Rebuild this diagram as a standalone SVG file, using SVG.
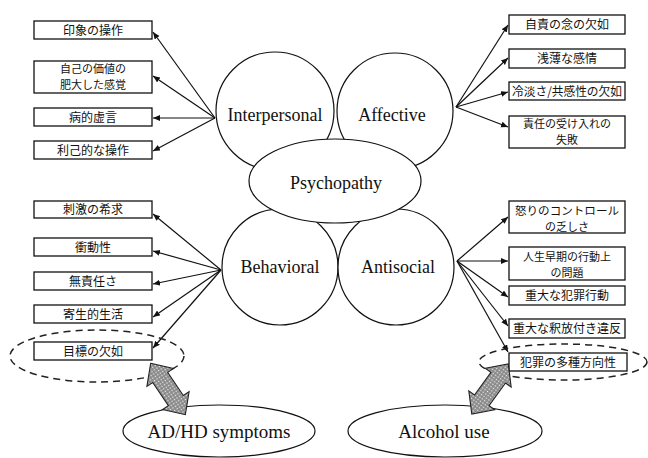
<svg xmlns="http://www.w3.org/2000/svg" width="648" height="458" viewBox="0 0 648 458">
<defs>
<style>
.box{fill:#fff;stroke:#111;stroke-width:1.3}
.jp{font-family:"Noto Sans CJK JP","Noto Sans CJK SC",sans-serif;font-size:12px;fill:#111;text-anchor:middle}
.two{font-size:11px}
.en{font-family:"Liberation Serif","Times New Roman",serif;font-size:18px;fill:#111;text-anchor:middle}
.big{font-size:19px}
.node{fill:#fff;stroke:#111;stroke-width:1.2}
.conn{stroke:#111;stroke-width:1.2;fill:none;marker-end:url(#ah)}
.dash{fill:none;stroke:#222;stroke-width:1.5;stroke-dasharray:7 5}
.dbl{fill:url(#stip);stroke:#222;stroke-width:1.1}
</style>
<marker id="ah" markerWidth="8" markerHeight="8" refX="7" refY="3" orient="auto" markerUnits="userSpaceOnUse">
<path d="M0,0 L7,3 L0,6 z" fill="#111"/>
</marker>
<pattern id="stip" width="3" height="3" patternUnits="userSpaceOnUse">
<rect width="3" height="3" fill="#9a9a9a"/>
<rect x="0" y="0" width="1" height="1" fill="#eee"/>
<rect x="1.5" y="1.5" width="1" height="1" fill="#555"/>
</pattern>
</defs>
<rect width="648" height="458" fill="#fff"/>

<g id="connectors">
<line class="conn" x1="215" y1="118" x2="153" y2="32"/>
<line class="conn" x1="215" y1="118" x2="153" y2="76"/>
<line class="conn" x1="215" y1="118" x2="153" y2="118"/>
<line class="conn" x1="215" y1="118" x2="153" y2="151"/>
<line class="conn" x1="221" y1="270" x2="153" y2="214"/>
<line class="conn" x1="221" y1="270" x2="153" y2="251"/>
<line class="conn" x1="221" y1="270" x2="153" y2="284"/>
<line class="conn" x1="221" y1="270" x2="153" y2="317"/>
<line class="conn" x1="221" y1="270" x2="153" y2="348"/>
<line class="conn" x1="456" y1="107" x2="508" y2="25"/>
<line class="conn" x1="456" y1="107" x2="508" y2="58"/>
<line class="conn" x1="456" y1="107" x2="508" y2="92"/>
<line class="conn" x1="456" y1="107" x2="508" y2="127"/>
<line class="conn" x1="457" y1="261" x2="508" y2="217"/>
<line class="conn" x1="457" y1="261" x2="508" y2="261"/>
<line class="conn" x1="457" y1="261" x2="508" y2="297"/>
<line class="conn" x1="457" y1="261" x2="508" y2="326"/>
<line class="conn" x1="457" y1="261" x2="508" y2="352"/>
</g>

<g id="interpersonal"><circle class="node" cx="275" cy="111" r="59"/><text class="en" x="275" y="121">Interpersonal</text></g>
<g id="affective"><circle class="node" cx="395" cy="111" r="58"/><text class="en" x="392" y="121">Affective</text></g>
<g id="behavioral"><circle class="node" cx="280" cy="267" r="58"/><text class="en" x="280" y="273">Behavioral</text></g>
<g id="antisocial"><circle class="node" cx="396" cy="267" r="58"/><text class="en" x="398" y="273">Antisocial</text></g>
<g id="psychopathy"><ellipse class="node" cx="335" cy="181" rx="86" ry="42"/><text class="en" x="336" y="189">Psychopathy</text></g>

<g id="b1"><rect class="box" x="34" y="21" width="118" height="18"/><text class="jp" x="93" y="34.5">印象の操作</text></g>
<g id="b2"><rect class="box" x="34" y="61" width="118" height="32"/><text class="jp two" x="93" y="73">自己の価値の</text><text class="jp two" x="93" y="89">肥大した感覚</text></g>
<g id="b3"><rect class="box" x="34" y="108" width="118" height="18"/><text class="jp" x="93" y="121.5">病的虚言</text></g>
<g id="b4"><rect class="box" x="34" y="141" width="118" height="18"/><text class="jp" x="93" y="154.5">利己的な操作</text></g>
<g id="b5"><rect class="box" x="34" y="201" width="118" height="17"/><text class="jp" x="93" y="214">刺激の希求</text></g>
<g id="b6"><rect class="box" x="34" y="238" width="118" height="18"/><text class="jp" x="93" y="251.5">衝動性</text></g>
<g id="b7"><rect class="box" x="34" y="272" width="118" height="18"/><text class="jp" x="93" y="285.5">無責任さ</text></g>
<g id="b8"><rect class="box" x="34" y="305" width="118" height="18"/><text class="jp" x="93" y="318.5">寄生的生活</text></g>
<g id="b9"><rect class="box" x="34" y="342" width="118" height="18"/><text class="jp" x="93" y="355.5">目標の欠如</text></g>

<g id="r1"><rect class="box" x="509" y="15" width="116" height="19"/><text class="jp" x="567" y="29">自責の念の欠如</text></g>
<g id="r2"><rect class="box" x="509" y="49" width="116" height="19"/><text class="jp" x="567" y="63">浅薄な感情</text></g>
<g id="r3"><rect class="box" x="509" y="82" width="116" height="18"/><text class="jp" x="567" y="95.5" textLength="110" lengthAdjust="spacingAndGlyphs">冷淡さ/共感性の欠如</text></g>
<g id="r4"><rect class="box" x="509" y="116" width="116" height="32"/><text class="jp two" x="567" y="128">責任の受け入れの</text><text class="jp two" x="567" y="144">失敗</text></g>
<g id="r5"><rect class="box" x="509" y="201" width="116" height="32"/><text class="jp two" x="567" y="214.5" textLength="104" lengthAdjust="spacingAndGlyphs">怒りのコントロール</text><text class="jp two" x="567" y="230.5">の乏しさ</text></g>
<g id="r6"><rect class="box" x="509" y="247" width="116" height="33"/><text class="jp two" x="567" y="260.5">人生早期の行動上</text><text class="jp two" x="567" y="276.5">の問題</text></g>
<g id="r7"><rect class="box" x="509" y="286" width="116" height="19"/><text class="jp" x="567" y="300">重大な犯罪行動</text></g>
<g id="r8"><rect class="box" x="509" y="319" width="116" height="19"/><text class="jp" x="567" y="333">重大な釈放付き違反</text></g>
<g id="r9"><rect class="box" x="509" y="353" width="118" height="18"/><text class="jp" x="568" y="366.5">犯罪の多種方向性</text></g>

<g id="group-left"><ellipse class="dash" cx="97" cy="356" rx="87" ry="26"/></g>
<g id="group-right"><ellipse class="dash" cx="563" cy="362" rx="84" ry="18"/></g>

<g id="adhd"><ellipse class="node" cx="219" cy="431" rx="96" ry="26"/><text class="en big" x="219" y="438">AD/HD symptoms</text></g>
<g id="alcohol"><ellipse class="node" cx="445" cy="431" rx="97" ry="26"/><text class="en big" x="444" y="438">Alcohol use</text></g>

<g id="link-left" transform="translate(168,389) rotate(56)"><polygon class="dbl" points="-31,0 -14,-16 -14,-9 14,-9 14,-16 31,0 14,16 14,9 -14,9 -14,16"/></g>
<g id="link-right" transform="translate(490,389) rotate(126)"><polygon class="dbl" points="-31,0 -14,-16 -14,-9 14,-9 14,-16 31,0 14,16 14,9 -14,9 -14,16"/></g>
</svg>
